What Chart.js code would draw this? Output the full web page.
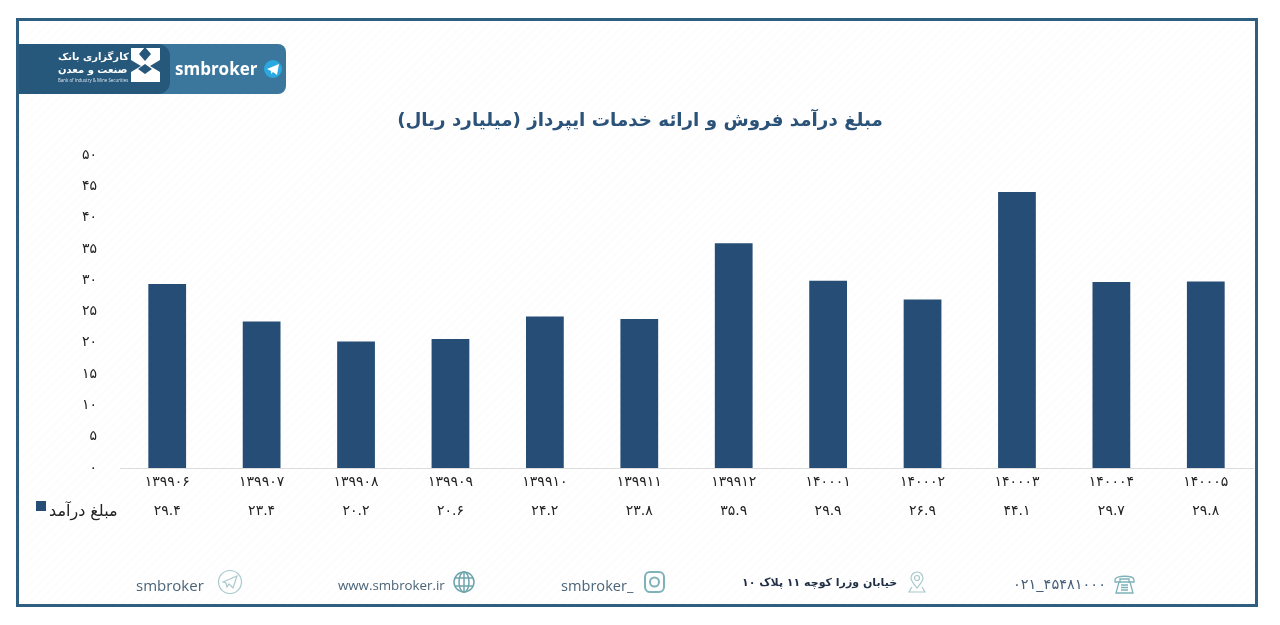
<!DOCTYPE html>
<html lang="fa">
<head>
<meta charset="utf-8">
<title>مبلغ درآمد فروش و ارائه خدمات ایپرداز</title>
<script src="https://cdn.jsdelivr.net/npm/chart.js@4"></script>
<style>
  html, body { margin: 0; padding: 0; }
  body { width: 1280px; height: 625px; position: relative; overflow: hidden; background: #fff; }
  #frame { position: absolute; left: 16px; top: 18px; width: 1236px; height: 583px; border: 3px solid #2f5f80;
           background: repeating-linear-gradient(135deg, #fff 0 3px, #fdfdfd 3px 6px); }
  #wrap { position: absolute; left: 0; top: 0; width: 1280px; height: 625px; }
  .txt { position: absolute; white-space: nowrap; font-family: "Open Sans", sans-serif; color: #4a6478; line-height: 20px; }
  .fa { font-family: "DejaVu Sans", sans-serif; color: #1f2f45; }
  svg { position: absolute; overflow: visible; }
</style>
</head>
<body>
<div id="frame"></div>
<div id="wrap"><canvas id="revenueChart" width="1280" height="625"></canvas></div>

<!-- logo band -->
<svg style="left:0;top:0" width="300" height="100">
  <path d="M19 44H278a8 8 0 0 1 8 8V86a8 8 0 0 1-8 8H19Z" fill="#3b769c"/>
  <path d="M19 44H158a12 12 0 0 1 12 12V82a12 12 0 0 1-12 12H19Z" fill="#26587c"/>
  <rect x="131" y="48" width="29" height="34" fill="#fff"/>
  <path d="M145 47l6 7-6 7-6-7ZM145 64l7 5-7 5-7-5Z" fill="#26587c"/>
  <path d="M131 60l10 6-10 6ZM160 60l-10 6 10 6Z" fill="#26587c"/>
  <circle cx="273" cy="69" r="9" fill="#29a9df"/>
  <path d="M267 69l12-5-2 11-4-3-2 2v-3Z" fill="#fff"/>
</svg>
<div class="txt" style="left:175px;top:59px;font:bold 17px/20px 'Open Sans';color:#fff">smbroker</div>
<div class="txt fa" style="left:58px;top:50px;font-size:10px;line-height:13px;font-weight:bold;color:#fff" dir="rtl">کارگزاری بانک</div>
<div class="txt fa" style="left:58px;top:63px;font-size:10px;line-height:13px;font-weight:bold;color:#fff" dir="rtl">صنعت و معدن</div>
<div class="txt" style="left:58px;top:77px;font-size:4.4px;line-height:6px;color:#dbe6ee">Bank of Industry &amp; Mine Securities</div>

<!-- legend for the value row -->
<svg style="left:36px;top:501px" width="10" height="10"><rect width="10" height="10" fill="#264d75"/></svg>
<div class="txt fa" style="left:49px;top:501px;font-size:16px;color:#222" dir="rtl">مبلغ درآمد</div>

<!-- footer -->
<div class="txt" style="left:136px;top:575px;font-size:15px">smbroker</div>
<svg style="left:218px;top:570px" width="24" height="24" fill="none" stroke="#a9c9cc" stroke-width="1.2">
  <circle cx="12" cy="12" r="11.5"/><path d="M5 12l14-6-4 12-4-4-2 3-1-4Z"/>
</svg>
<div class="txt" style="left:338px;top:575px;font-size:13.3px">www.smbroker.ir</div>
<svg style="left:453px;top:571px" width="22" height="22" fill="none" stroke="#6fa5ad" stroke-width="1.5">
  <circle cx="11" cy="11" r="10"/><ellipse cx="11" cy="11" rx="5" ry="10"/><path d="M2 7H20M2 15H20M11 1V21"/>
</svg>
<div class="txt" style="left:561px;top:575px;font-size:14.6px">smbroker_</div>
<svg style="left:644px;top:571px" width="21" height="22" fill="none" stroke="#7fb2b8" stroke-width="2">
  <rect x="1" y="1" width="19" height="20" rx="5"/><circle cx="10.5" cy="11" r="4.5"/>
</svg>
<div class="txt fa" style="left:742px;top:573px;font-size:11px;font-weight:bold" dir="rtl">خیابان وزرا کوچه ۱۱ پلاک ۱۰</div>
<svg style="left:908px;top:571px" width="18" height="22" fill="none" stroke="#a9c9cc" stroke-width="1.2">
  <path d="M9 17C5 12 3 10 3 7a6 6 0 0 1 12 0c0 3-2 5-6 10Z"/><circle cx="9" cy="7" r="2.5"/><path d="M4 16L1 21H17L14 16"/>
</svg>
<div class="txt fa" style="left:1013px;top:574px;font-size:14.5px;color:#46607a" dir="ltr">۰۲۱_۴۵۴۸۱۰۰۰</div>
<svg style="left:1114px;top:574px" width="21" height="20" fill="none" stroke="#7fb2b8" stroke-width="1.3">
  <path d="M1 6C1 1 20 1 20 6V8H15V5H6V8H1Z"/><path d="M5 8L2 19H19L16 8Z"/><path d="M7 11H14M7 13.5H14M7 16H14"/>
</svg>

<script>
const chartTitle = 'مبلغ درآمد فروش و ارائه خدمات ایپرداز (میلیارد ریال)';
const seriesName = 'مبلغ درآمد';
const periods = ['۱۳۹۹۰۶', '۱۳۹۹۰۷', '۱۳۹۹۰۸', '۱۳۹۹۰۹', '۱۳۹۹۱۰', '۱۳۹۹۱۱', '۱۳۹۹۱۲', '۱۴۰۰۰۱', '۱۴۰۰۰۲', '۱۴۰۰۰۳', '۱۴۰۰۰۴', '۱۴۰۰۰۵'];
const revenue = [29.4, 23.4, 20.2, 20.6, 24.2, 23.8, 35.9, 29.9, 26.9, 44.1, 29.7, 29.8];
const revenueLabels = ['۲۹.۴', '۲۳.۴', '۲۰.۲', '۲۰.۶', '۲۴.۲', '۲۳.۸', '۳۵.۹', '۲۹.۹', '۲۶.۹', '۴۴.۱', '۲۹.۷', '۲۹.۸'];
const yTickLabels = ['۰', '۵', '۱۰', '۱۵', '۲۰', '۲۵', '۳۰', '۳۵', '۴۰', '۴۵', '۵۰'];

const ctx = document.getElementById('revenueChart').getContext('2d');

new Chart(ctx, {
    type: 'bar',
    data: {
        labels: periods,
        datasets: [{
            label: seriesName,
            data: revenue,
            backgroundColor: '#264d75',
            barPercentage: 0.4,
            categoryPercentage: 1
        }]
    },
    options: {
        responsive: false,
        animation: false,
        layout: { padding: { left: 27, right: 27 } },
        plugins: {
            legend: { display: false },
            tooltip: { enabled: false },
            title: {
                display: true,
                text: chartTitle,
                color: '#2b5278',
                font: { family: '"DejaVu Sans"', size: 18.3, weight: 'bold', lineHeight: 1.2 },
                padding: { top: 110, bottom: 23 }
            }
        },
        scales: {
            x: {
                grid: { display: false },
                border: { color: '#dcdcdc' },
                afterFit: (scale) => { scale.height = 157; },
                ticks: {
                    autoSkip: false,
                    maxRotation: 0,
                    color: '#222',
                    padding: -8,
                    font: { family: '"DejaVu Sans"', size: 14, lineHeight: 2.07 },
                    callback: (value, i) => [periods[i], revenueLabels[i]]
                }
            },
            y: {
                min: 0,
                max: 50,
                grid: { display: false },
                border: { display: false },
                afterFit: (scale) => { scale.width = 93; },
                ticks: {
                    stepSize: 5,
                    color: '#222',
                    padding: 15,
                    font: { family: '"DejaVu Sans"', size: 14 },
                    callback: (value, i) => yTickLabels[i]
                }
            }
        }
    }
});
</script>
</body>
</html>
